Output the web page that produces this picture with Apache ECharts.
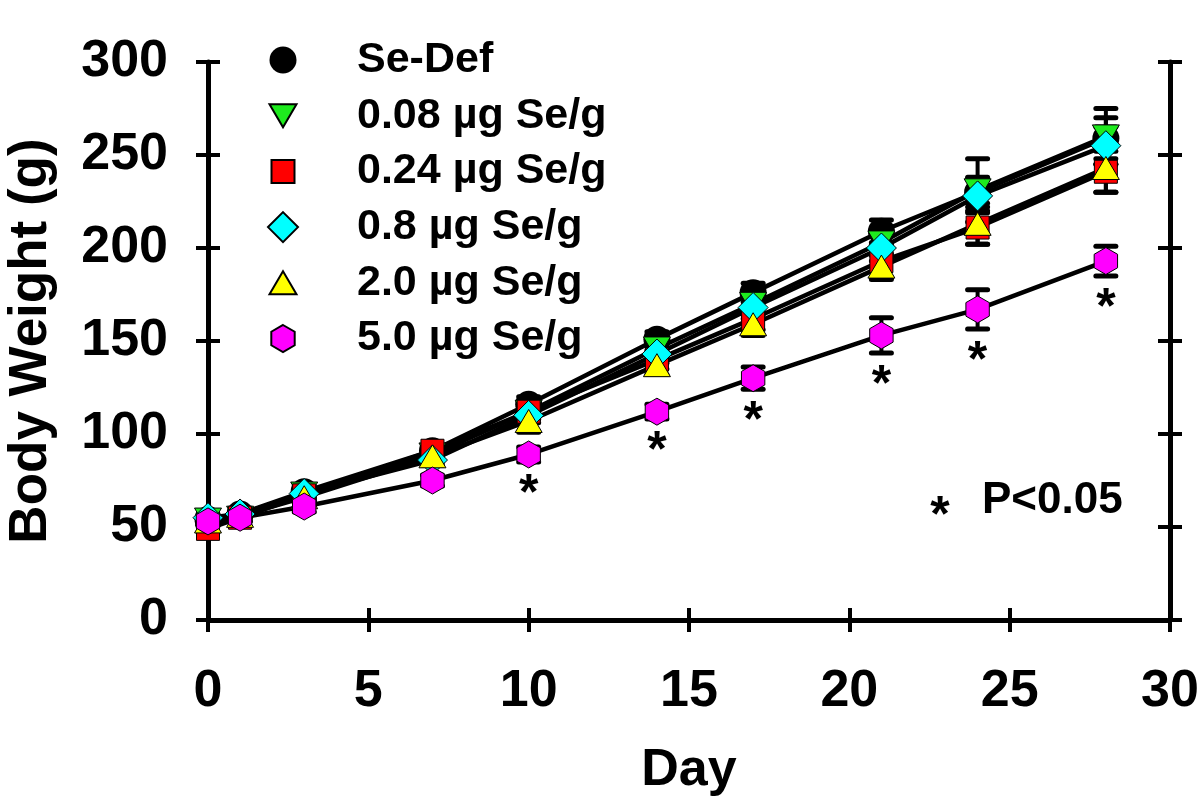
<!DOCTYPE html>
<html>
<head>
<meta charset="utf-8">
<script src="https://cdn.jsdelivr.net/npm/echarts@6/dist/echarts.min.js"></script>
<style>
html,body{margin:0;padding:0;background:#fff;}
#chart{width:1200px;height:805px;}
</style>
</head>
<body>
<div id="chart"></div>
<script>
// ---- data ----
const days = [0, 1, 3, 7, 10, 14, 17, 21, 24, 28];
const seDefMean  = [54, 57, 69, 91, 116, 151, 176, 209, 230, 259];
const seDefErr   = [2, 2, 3, 3, 4, 4, 5, 6, 8, 11];
const se008Mean  = [54, 55, 68, 89, 112, 146, 170, 203, 231, 260];
const se008Err   = [2, 2, 3, 3, 4, 5, 6, 7, 17, 15];
const se024Mean  = [49, 55, 67, 91, 112, 140, 162, 193, 211, 241];
const se024Err   = [2, 2, 3, 3, 4, 5, 6, 9, 9, 11];
const se08Mean   = [55, 57, 68, 86, 110, 143, 168, 200, 228, 255];
const se08Err    = [2, 2, 3, 3, 4, 5, 6, 7, 9, 10];
const se20Mean   = [53, 56, 66, 88, 107, 137, 159, 190, 213, 243];
const se20Err    = [2, 2, 3, 3, 6, 5, 6, 7, 11, 13];
const se50Mean   = [53, 55, 61, 75, 89, 112, 130, 153, 167, 193];
const se50Err    = [2, 2, 3, 3, 4, 4, 6, 9.5, 10.5, 8];
const sigDays    = [10, 14, 17, 21, 24, 28];
const groupNames = ['Se-Def', '0.08 µg Se/g', '0.24 µg Se/g', '0.8 µg Se/g', '2.0 µg Se/g', '5.0 µg Se/g'];
const xTicks = {min: 0, max: 30, interval: 5};
const yTicks = {min: 0, max: 300, interval: 50};

// ---- styles ----
const PAD = 'M-15,-15 M15,15 ';
const shapes = [
  'path://' + PAD + 'M-13.5,0 A13.5,13.5 0 1 1 13.5,0 A13.5,13.5 0 1 1 -13.5,0 Z',
  'path://' + PAD + 'M-13.5,-11.5 L13.5,-11.5 L0,11.5 Z',
  'path://' + PAD + 'M-11.5,-11.5 L11.5,-11.5 L11.5,11.5 L-11.5,11.5 Z',
  'path://' + PAD + 'M0,-15 L15,0 L0,15 L-15,0 Z',
  'path://' + PAD + 'M0,-11.5 L13.5,11.5 L-13.5,11.5 Z',
  'path://' + PAD + 'M0,-13.5 L11.7,-6.75 L11.7,6.75 L0,13.5 L-11.7,6.75 L-11.7,-6.75 Z'
];
const fills = ['#000000', '#1EEB1E', '#FF0000', '#00FFFF', '#FFFF00', '#FF00FF'];
const means = [seDefMean, se008Mean, se024Mean, se08Mean, se20Mean, se50Mean];
const errs  = [seDefErr, se008Err, se024Err, se08Err, se20Err, se50Err];
const FONT = '"Liberation Sans", Arial, sans-serif';

const series = [];
// lines
means.forEach((m, g) => {
  series.push({
    type: 'line', name: 'line' + g, z: 2, silent: true,
    data: days.map((d, i) => [d, m[i]]),
    showSymbol: false, symbol: 'none',
    lineStyle: {color: '#000', width: 4.5},
    xAxisIndex: 0, yAxisIndex: 0
  });
});
// error bars
means.forEach((m, g) => {
  series.push({
    type: 'custom', name: 'err' + g, z: 2, silent: true,
    data: days.map((d, i) => [d, m[i], errs[g][i]]),
    encode: {x: 0, y: 1},
    renderItem: function (params, api) {
      const x = api.value(0), v = api.value(1), e = api.value(2);
      const t = api.coord([x, v + e]), b = api.coord([x, v - e]);
      const hw = 10;
      return {type: 'group', children: [
        {type: 'line', shape: {x1: t[0], y1: t[1], x2: b[0], y2: b[1]}, style: {stroke: '#000', lineWidth: 4}},
        {type: 'line', shape: {x1: t[0] - hw, y1: t[1], x2: t[0] + hw, y2: t[1]}, style: {stroke: '#000', lineWidth: 5, lineCap: 'round'}},
        {type: 'line', shape: {x1: b[0] - hw, y1: b[1], x2: b[0] + hw, y2: b[1]}, style: {stroke: '#000', lineWidth: 5, lineCap: 'round'}}
      ]};
    }
  });
});
// markers
means.forEach((m, g) => {
  series.push({
    type: 'scatter', name: groupNames[g], z: 3,
    data: days.map((d, i) => [d, m[i]]),
    symbol: shapes[g], symbolSize: 30,
    itemStyle: {color: fills[g], borderColor: '#000', borderWidth: g === 0 ? 0 : 1, opacity: 1},
    emphasis: {disabled: true}
  });
});
// significance asterisks
series.push({
  type: 'custom', name: 'sig', z: 4, silent: true,
  data: sigDays.map(d => { const i = days.indexOf(d); return [d, se50Mean[i], se50Err[i]]; }),
  encode: {x: 0, y: 1},
  renderItem: function (params, api) {
    const p = api.coord([api.value(0), api.value(1) - api.value(2)]);
    return {type: 'text', x: p[0], y: p[1] + 33,
      style: {text: '*', fill: '#000', font: 'bold 50px ' + FONT, align: 'center', verticalAlign: 'middle'}};
  }
});

function yAx(pos, showLine, inside, showLabel, extra) {
  return Object.assign({
    type: 'value', position: pos, min: yTicks.min, max: yTicks.max, interval: yTicks.interval,
    axisLine: {show: showLine, onZero: false, lineStyle: {color: '#000', width: 5}},
    axisTick: {show: true, inside: inside, length: 12, lineStyle: {color: '#000', width: 4}},
    axisLabel: {show: showLabel, margin: 40, color: '#000', fontSize: 52, fontWeight: 'bold', fontFamily: FONT},
    splitLine: {show: false}
  }, extra || {});
}
function xAx(showLine, inside, showLabel, extra) {
  return Object.assign({
    type: 'value', position: 'bottom', min: xTicks.min, max: xTicks.max, interval: xTicks.interval,
    axisLine: {show: showLine, onZero: false, lineStyle: {color: '#000', width: 5}},
    axisTick: {show: true, inside: inside, length: 12, lineStyle: {color: '#000', width: 4}},
    axisLabel: {show: showLabel, margin: 46, color: '#000', fontSize: 52, fontWeight: 'bold', fontFamily: FONT},
    splitLine: {show: false}
  }, extra || {});
}

const option = {
  animation: false,
  backgroundColor: '#fff',
  grid: {left: 208, right: 30, top: 62, bottom: 185, containLabel: false, outerBoundsMode: 'none'},
  xAxis: [
    xAx(true, false, true, {name: 'Day', nameLocation: 'middle', nameGap: 125,
      nameTextStyle: {color: '#000', fontSize: 52, fontWeight: 'bold', fontFamily: FONT}}),
    xAx(false, true, false)
  ],
  yAxis: [
    yAx('left', true, false, true, {name: 'Body Weight (g)', nameLocation: 'middle', nameGap: 150,
      nameTextStyle: {color: '#000', fontSize: 53, fontWeight: 'bold', fontFamily: FONT}}),
    yAx('left', false, true, false),
    yAx('right', true, false, false),
    yAx('right', false, true, false)
  ],
  legend: {
    show: true, orient: 'vertical', left: 267, top: 38, padding: 0,
    itemWidth: 138, itemHeight: 30, itemGap: 11.7, selectedMode: false,
    data: groupNames,
    textStyle: {color: '#000', fontSize: 43, fontWeight: 'bold', fontFamily: FONT, lineHeight: 44}
  },
  graphic: [
    {type: 'text', x: 940, y: 517, z: 10,
      style: {text: '*', fill: '#000', font: 'bold 50px ' + FONT, align: 'center', verticalAlign: 'middle'}},
    {type: 'text', x: 982, y: 479, z: 10,
      style: {text: 'P<0.05', fill: '#000', font: 'bold 44px ' + FONT, align: 'left', verticalAlign: 'top'}}
  ],
  series: series
};

const chart = echarts.init(document.getElementById('chart'), null, {renderer: 'canvas'});
chart.setOption(option);
</script>
</body>
</html>
